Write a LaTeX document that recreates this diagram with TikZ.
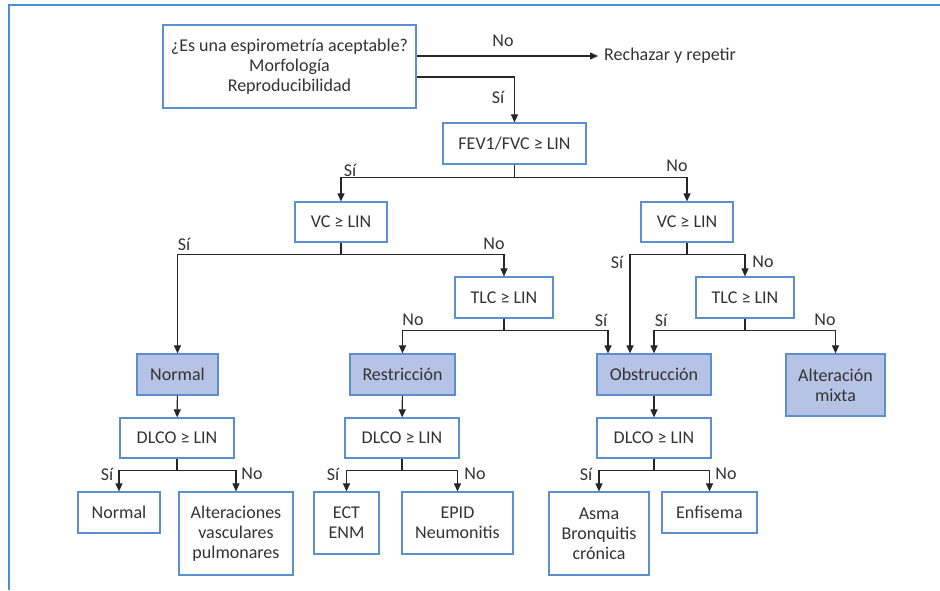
\documentclass[tikz,border=0pt]{standalone}
\usepackage{fontspec}
\setmainfont{Carlito}
\usetikzlibrary{arrows.meta}
\definecolor{boxblue}{HTML}{5B8FD2}
\definecolor{fillblue}{HTML}{B7C3E5}
\definecolor{frameblue}{HTML}{4A8FD6}
\definecolor{txt}{HTML}{333333}
\begin{document}
\begin{tikzpicture}[x=1pt,y=-1pt,
  box/.style={draw=boxblue, line width=1.2pt, fill=white, text=txt, align=center, inner sep=0pt, font=\fontsize{18}{20}\selectfont},
  res/.style={box, fill=fillblue},
  arr/.style={draw=black!85, line width=1.1pt, -{Triangle[length=8pt,width=7pt]}},
  lab/.style={text=txt, inner sep=0pt, font=\fontsize{18}{20}\selectfont}]
\useasboundingbox (0,0) rectangle (940,590);
\draw[frameblue, line width=1.5pt] (9,590) -- (9,5) -- (940,5);

% nodes
\node[box, minimum width=253pt, minimum height=83pt] (q0) at (289.5,66.5) {¿Es una espirometría aceptable?\\Morfología\\Reproducibilidad};
\node[lab, anchor=west, inner xsep=6pt] (rech) at (598,56) {Rechazar y repetir};
\node[box, minimum width=143pt, minimum height=41pt] (fev) at (514.5,143.5) {FEV1/FVC ≥ LIN};
\node[box, minimum width=92pt, minimum height=40pt] (vcL) at (341,222) {VC ≥ LIN};
\node[box, minimum width=92pt, minimum height=40pt] (vcR) at (687,222) {VC ≥ LIN};
\node[box, minimum width=98pt, minimum height=41pt] (tlcL) at (504,297.5) {TLC ≥ LIN};
\node[box, minimum width=98pt, minimum height=41pt] (tlcR) at (745,297.5) {TLC ≥ LIN};
\node[res, minimum width=81pt, minimum height=41pt] (normal) at (177.5,374.5) {Normal};
\node[res, minimum width=105pt, minimum height=41pt] (restr) at (402.5,374.5) {Restricción};
\node[res, minimum width=114pt, minimum height=41pt] (obstr) at (654,374.5) {Obstrucción};
\node[res, minimum width=99pt, minimum height=62pt] (mixta) at (835.5,385) {Alteración\\mixta};
\node[box, minimum width=114pt, minimum height=40pt] (dlcoL) at (177,438) {DLCO ≥ LIN};
\node[box, minimum width=114pt, minimum height=40pt] (dlcoM) at (402,438) {DLCO ≥ LIN};
\node[box, minimum width=114pt, minimum height=40pt] (dlcoR) at (654,438) {DLCO ≥ LIN};
\node[box, minimum width=82pt, minimum height=41pt] (n2) at (119,512.5) {Normal};
\node[box, minimum width=114pt, minimum height=83pt] (avp) at (236,533.5) {Alteraciones\\vasculares\\pulmonares};
\node[box, minimum width=65pt, minimum height=62pt] (ect) at (346.5,523) {ECT\\ENM};
\node[box, minimum width=111pt, minimum height=62pt] (epid) at (457.5,523) {EPID\\Neumonitis};
\node[box, minimum width=100pt, minimum height=83pt] (asma) at (599,533.5) {Asma\\Bronquitis\\crónica};
\node[box, minimum width=95pt, minimum height=41pt] (enf) at (709.5,512.5) {Enfisema};

% connectors
\draw[arr] ([yshift=10.5pt]q0.east) -- (rech.west);
\draw[arr] ([yshift=-10.5pt]q0.east) -| (fev.north);
\draw[arr] (fev.south) -- ++(0,13) -| (vcL.north);
\draw[arr] (fev.south) -- ++(0,13) -| (vcR.north);
\draw[arr] (vcL.south) -- ++(0,12) -| (normal.north);
\draw[arr] (vcL.south) -- ++(0,12) -| (tlcL.north);
\draw[arr] (tlcL.south) -- ++(0,12) -| (restr.north);
\draw[arr] (tlcL.south) -- ++(0,12) -| ([xshift=-46pt]obstr.north);
\draw[arr] (vcR.south) -- ++(0,12) -| ([xshift=-24pt]obstr.north);
\draw[arr] (vcR.south) -- ++(0,12) -| (tlcR.north);
\draw[arr] (tlcR.south) -- ++(0,12) -| (obstr.north);
\draw[arr] (tlcR.south) -- ++(0,12) -| (mixta.north);
\draw[arr] (normal) -- (dlcoL);
\draw[arr] (restr) -- (dlcoM);
\draw[arr] (obstr) -- (dlcoR);
\draw[arr] (dlcoL.south) -- ++(0,12) -| (n2.north);
\draw[arr] (dlcoL.south) -- ++(0,12) -| (avp.north);
\draw[arr] (dlcoM.south) -- ++(0,12) -| (ect.north);
\draw[arr] (dlcoM.south) -- ++(0,12) -| (epid.north);
\draw[arr] (dlcoR.south) -- ++(0,12) -| (asma.north);
\draw[arr] (dlcoR.south) -- ++(0,12) -| (enf.north);

% labels
\node[lab] (l1) at (503,41) {No};
\node[lab] (l2) at (498,97) {Sí};
\node[lab] (l3) at (350,170) {Sí};
\node[lab] (l4) at (677,166) {No};
\node[lab] (l5) at (184,244) {Sí};
\node[lab] (l6) at (494,244) {No};
\node[lab] (l7) at (413,320) {No};
\node[lab] (l8) at (601,320) {Sí};
\node[lab] (l9) at (617,262) {Sí};
\node[lab] (l10) at (763,262) {No};
\node[lab] (l11) at (661,320) {Sí};
\node[lab] (l12) at (825,320) {No};
\node[lab] (l13) at (107,474) {Sí};
\node[lab] (l14) at (252,474) {No};
\node[lab] (l15) at (333,474) {Sí};
\node[lab] (l16) at (475,474) {No};
\node[lab] (l17) at (586,474) {Sí};
\node[lab] (l18) at (726,474) {No};
\end{tikzpicture}
\end{document}
